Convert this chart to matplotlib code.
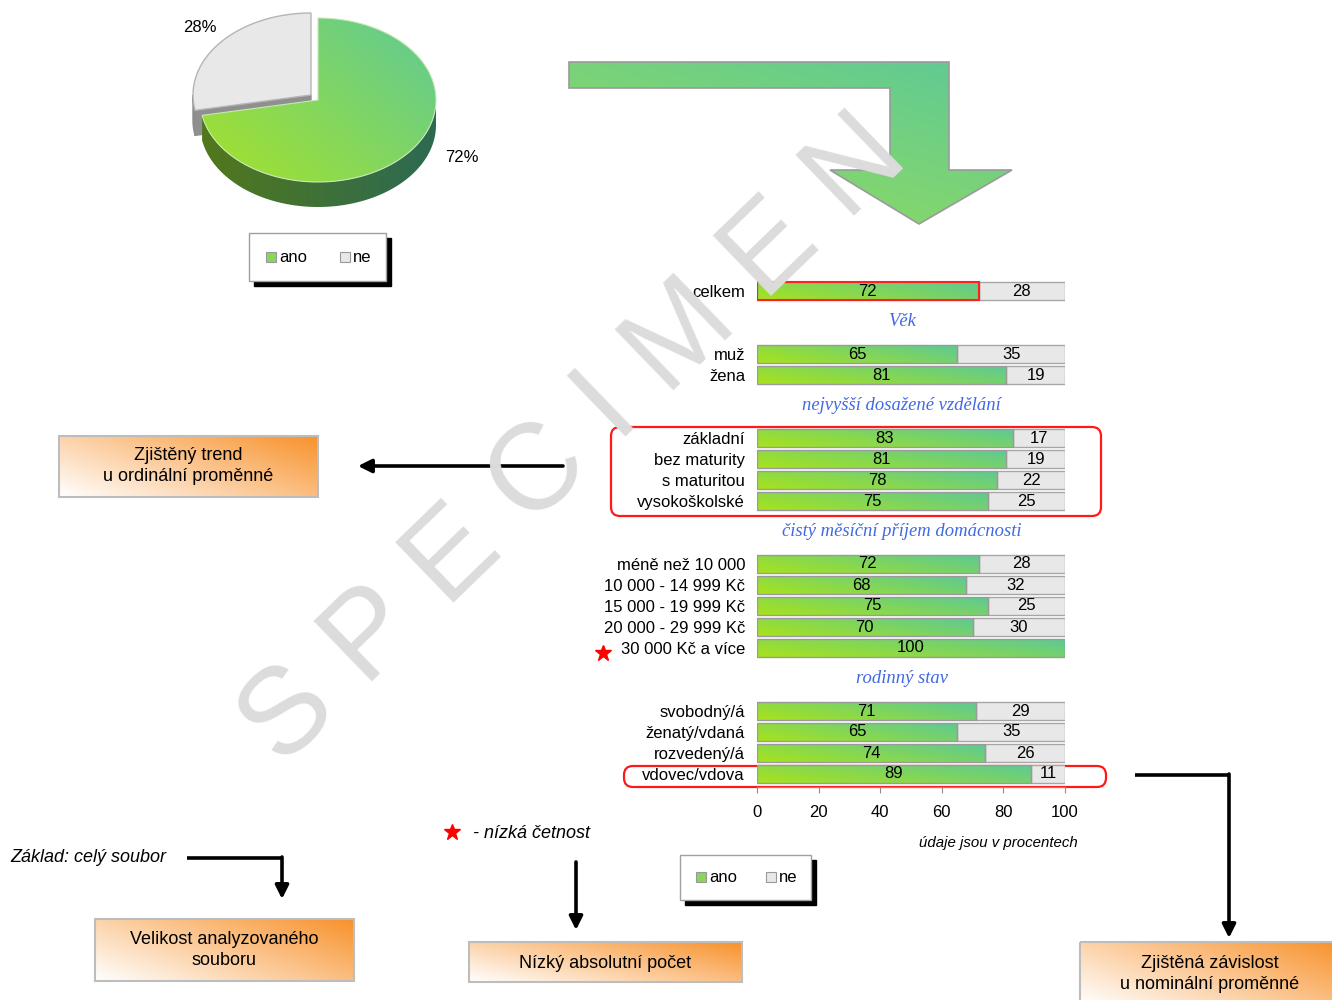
"""Infographic: share of 'ano'/'ne' answers overall and by subgroups."""
import numpy as np
import matplotlib
matplotlib.use("Agg")
import matplotlib.pyplot as plt
from matplotlib.colors import to_rgb
from matplotlib.patches import Polygon, Rectangle, FancyBboxPatch

plt.rcParams["font.family"] = ["Liberation Sans", "DejaVu Sans"]

# ---- data ---------------------------------------------------------------
pie_labels = ["ano", "ne"]
pie_values = [72, 28]

group_titles = ["Věk", "nejvyšší dosažené vzdělání",
                "čistý měsíční příjem domácnosti", "rodinný stav"]
group_sizes = [1, 2, 4, 5, 4]
categories = ["celkem", "muž", "žena",
              "základní", "bez maturity", "s maturitou", "vysokoškolské",
              "méně než 10 000", "10 000 - 14 999 Kč", "15 000 - 19 999 Kč",
              "20 000 - 29 999 Kč", "30 000 Kč a více",
              "svobodný/á", "ženatý/vdaná", "rozvedený/á", "vdovec/vdova"]
ano = [72, 65, 81, 83, 81, 78, 75, 72, 68, 75, 70, 100, 71, 65, 74, 89]
ne = [28, 35, 19, 17, 19, 22, 25, 28, 32, 25, 30, 0, 29, 35, 26, 11]
low_count = ["30 000 Kč a více"]

GREEN1, GREEN2 = "#a8e31a", "#5cc898"
GREY = "#e8e8e8"
ORANGE1, ORANGE2 = "#ffffff", "#f8922c"
BLUE = "#4169E1"
FS = 12

W, H = 1332, 1000
fig = plt.figure(figsize=(W / 100, H / 100), dpi=100)
ov = fig.add_axes([0, 0, 1, 1], zorder=0)
ov.set_axis_off()


def grad_fill(ax, verts, c1, c2, wx=0.5, wy=0.5, zorder=2, ec="none", lw=1.0):
    verts = np.asarray(verts, dtype=float)
    poly = Polygon(verts, closed=True, facecolor="none", edgecolor=ec,
                   lw=lw, zorder=zorder + 0.1)
    ax.add_patch(poly)
    x0, x1 = verts[:, 0].min(), verts[:, 0].max()
    y0, y1 = verts[:, 1].min(), verts[:, 1].max()
    xn = np.linspace(0, 1, 160)[None, :]
    yn = np.linspace(0, 1, 60)[:, None]
    t = np.clip(wx * xn + wy * (1 - yn), 0, 1)
    a, b = np.array(to_rgb(c1)), np.array(to_rgb(c2))
    img = a + t[..., None] * (b - a)
    im = ax.imshow(img, extent=(x0, x1, y1, y0), origin="upper",
                   interpolation="bilinear", aspect="auto", zorder=zorder)
    im.set_clip_path(poly)
    return poly


# ---- 3D pie -------------------------------------------------------------
cx, cy, rx, ry, depth = 318, 100, 118, 82, 25
gdx, gdy = -7, -5
start = 90
ano_end = start - 360 * pie_values[0] / 100      # clockwise
ne_end = start + 360 * pie_values[1] / 100       # counter-clockwise


def arc(theta_a, theta_b, ox=0, oy=0, dy=0, n=120):
    th = np.radians(np.linspace(theta_a, theta_b, n))
    return np.column_stack([cx + ox + rx * np.cos(th),
                            cy + oy + dy - ry * np.sin(th)])


# grey slice (exploded)
side = arc(180, ne_end, gdx, gdy)
side = np.vstack([side, arc(ne_end, 180, gdx, gdy, depth)])
ov.add_patch(Polygon(side, closed=True, fc="#8c8c8c", ec="#8c8c8c", zorder=2))
th = np.radians(ne_end)
ex, ey = cx + gdx + rx * np.cos(th), cy + gdy - ry * np.sin(th)
cut = [(cx + gdx, cy + gdy), (ex, ey), (ex, ey + depth), (cx + gdx, cy + gdy + depth)]
ov.add_patch(Polygon(cut, closed=True, fc="#8f8f8f", ec="#8f8f8f", zorder=2))
top_ne = np.vstack([[cx + gdx, cy + gdy], arc(start, ne_end, gdx, gdy)])
ov.add_patch(Polygon(top_ne, closed=True, fc=GREY, ec="#b5b5b5", lw=1, zorder=3))

# green slice
side = np.vstack([arc(ano_end, 0), arc(0, ano_end, dy=depth)])
grad_fill(ov, side, "#52781c", "#2c6a52", wx=1.0, wy=0.0, zorder=4)
top_ano = np.vstack([[cx, cy], arc(start, ano_end)])
grad_fill(ov, top_ano, "#a6e22a", "#5fca96", wx=0.55, wy=0.45, zorder=5,
          ec="#c8e8b8", lw=0.8)

ov.text(200, 28, f"{pie_values[1]}%", fontsize=FS, ha="center", va="center")
ov.text(462, 158, f"{pie_values[0]}%", fontsize=FS, ha="center", va="center")


def legend_box(x0, y0, w, h, items_x, ymid):
    ov.add_patch(Rectangle((x0 + 5, y0 + 5), w, h, fc="black", ec="black", zorder=6))
    ov.add_patch(Rectangle((x0, y0), w, h, fc="white", ec="#a0a0a0", lw=1, zorder=7))
    for (lab, color), xx in zip(zip(pie_labels, ["#8ad65a", GREY]), items_x):
        ov.add_patch(Rectangle((xx, ymid - 5), 10, 10, fc=color, ec="#999999",
                               lw=0.8, zorder=8))
        ov.text(xx + 13, ymid, lab, fontsize=FS, va="center", ha="left", zorder=8)


legend_box(249, 233, 137, 48, [266, 340], 257)
legend_box(680, 855, 131, 45, [696, 766], 877)

# ---- big green arrow ----------------------------------------------------
arrow = [(569, 62), (949, 62), (949, 170), (1012, 170), (919, 224),
         (830, 170), (890, 170), (890, 88), (569, 88)]
grad_fill(ov, arrow, "#98de58", "#5ec996", wx=0.45, wy=0.55, zorder=2,
          ec="#9a9a9a", lw=1.2)

# ---- bars ---------------------------------------------------------------
pos = []
cur = 0
for size in group_sizes:
    pos.extend(range(cur, cur + size))
    cur += size + 2
ax = fig.add_axes([757 / W, 1 - 786.6 / H, 308 / W, 508.2 / H], zorder=1)
ax.patch.set_alpha(0)
bh = 0.88
for y, a, n in zip(pos, ano, ne):
    verts = [(0, y - bh / 2), (a, y - bh / 2), (a, y + bh / 2), (0, y + bh / 2)]
    grad_fill(ax, verts, GREEN1, GREEN2, wx=0.65, wy=0.35, zorder=2,
              ec="#9a9a9a", lw=1)
    ax.text(a / 2, y, str(a), ha="center", va="center", fontsize=FS, zorder=4)
    if n > 0:
        ax.add_patch(Rectangle((a, y - bh / 2), n, bh, fc=GREY, ec="#a6a6a6",
                               lw=1, zorder=2))
        ax.text(a + n / 2, y, str(n), ha="center", va="center", fontsize=FS,
                zorder=4)
ax.add_patch(Rectangle((0, pos[0] - bh / 2), ano[0], bh, fill=False,
                       ec="#ff2020", lw=1.5, zorder=3))

# group titles between groups
bounds = np.cumsum(group_sizes)
for title, b in zip(group_titles, bounds[:-1]):
    ymid = (pos[b - 1] + pos[b]) / 2 - 0.05
    ax.text(47, ymid, title, ha="center", va="center", fontsize=13.4,
            style="italic", family="Liberation Serif", color=BLUE)

ax.set_xlim(0, 100)
ax.set_ylim(pos[-1] + 0.6, -0.6)
ax.set_yticks(pos)
ax.set_yticklabels(categories, fontsize=FS)
ax.tick_params(axis="y", length=0, pad=8.6)
ax.set_xticks([0, 20, 40, 60, 80, 100])
ax.tick_params(axis="x", labelsize=FS, length=4, color="#8c8c8c", pad=9)
for s in ("top", "right", "left"):
    ax.spines[s].set_visible(False)
ax.spines["bottom"].set_color("#8c8c8c")

ax.text(1.04, -0.11, "údaje jsou v procentech", transform=ax.transAxes,
        ha="right", va="center", fontsize=10.8, style="italic")

# low count star next to the label
for lab in low_count:
    y = pos[categories.index(lab)]
    ov.plot(603, 291 + y * 21 + 5, marker="*", color="red", ms=12, zorder=5)

# ---- red highlight boxes ------------------------------------------------
for (x0, y0, x1, y1) in [(611, 427, 1101, 516), (624, 766, 1106, 787)]:
    ov.add_patch(FancyBboxPatch((x0, y0), x1 - x0, y1 - y0,
                                boxstyle="round,pad=0,rounding_size=9",
                                fill=False, ec="#ff1a1a", lw=1.6, zorder=5))

# ---- orange explanation boxes -------------------------------------------
boxes = [((59, 436, 318, 497), (188, 466), "Zjištěný trend\nu ordinální proměnné"),
         ((95, 919, 354, 981), (224, 950), "Velikost analyzovaného\nsouboru"),
         ((469, 942, 742, 982), (605, 963), "Nízký absolutní počet"),
         ((1080, 942, 1340, 1004), (1210, 974), "Zjištěná závislost\nu nominální proměnné")]
for (x0, y0, x1, y1), (tx, ty), txt in boxes:
    verts = [(x0, y0), (x1, y0), (x1, y1), (x0, y1)]
    grad_fill(ov, verts, ORANGE1, ORANGE2, wx=0.6, wy=0.4, zorder=2,
              ec="#bdbdbd", lw=1.5)
    ov.text(tx, ty, txt, ha="center", va="center", fontsize=13,
            linespacing=1.25, zorder=4)

# ---- black arrows -------------------------------------------------------
ap = dict(arrowstyle="-|>", lw=2.6, color="black", mutation_scale=20,
          shrinkA=0, shrinkB=0)
ov.annotate("", xy=(358, 466), xytext=(563, 466), arrowprops=ap, zorder=5)
ov.plot([187, 282], [858, 858], color="black", lw=2.6, solid_capstyle="butt",
        zorder=5)
ov.annotate("", xy=(282, 899), xytext=(282, 857), arrowprops=ap, zorder=5)
ov.annotate("", xy=(576, 930), xytext=(576, 862), arrowprops=ap, zorder=5)
ov.plot([1135, 1229], [775, 775], color="black", lw=2.6, solid_capstyle="butt",
        zorder=5)
ov.annotate("", xy=(1229, 938), xytext=(1229, 774), arrowprops=ap, zorder=5)

ov.text(10, 858, "Základ: celý soubor", fontsize=13, style="italic",
        ha="left", va="center")
ov.plot(452, 832, marker="*", color="red", ms=12, zorder=5)
ov.text(473, 833, "- nízká četnost", fontsize=13, style="italic",
        ha="left", va="center")

ov.set_xlim(0, W)
ov.set_ylim(H, 0)

# ---- watermark ----------------------------------------------------------
fig.text(574 / W, 1 - 442 / H, "S P E C I M E N", rotation=44, ha="center",
         va="center", fontsize=88, color="#dcdcdc", zorder=10)

fig.savefig("out.png", dpi=100)
